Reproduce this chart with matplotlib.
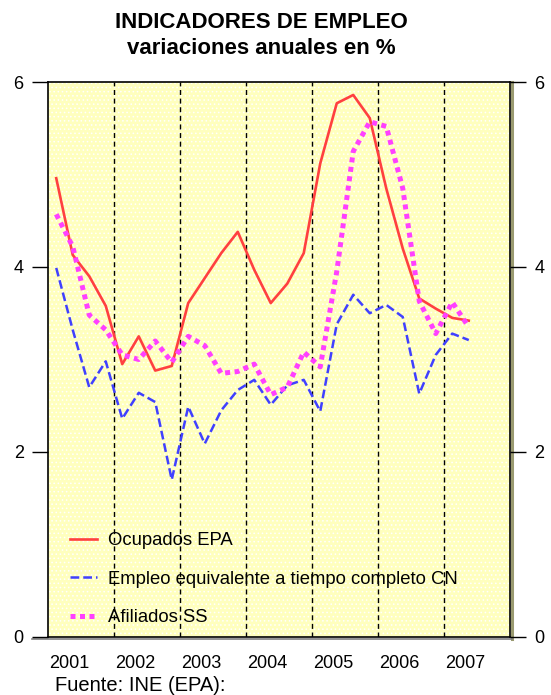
import matplotlib
matplotlib.use("Agg")
import matplotlib.pyplot as plt
from matplotlib.patches import Rectangle
import numpy as np

# quarterly data 2001 Q1 .. 2007 Q2
ocupados_epa = [4.96, 4.13, 3.90, 3.58, 2.95, 3.25, 2.88, 2.93, 3.61, 3.88, 4.15, 4.38, 3.97,
                3.61, 3.82, 4.15, 5.12, 5.77, 5.86, 5.61, 4.85, 4.20, 3.66, 3.55, 3.45, 3.42]
empleo_cn = [3.99, 3.32, 2.70, 2.98, 2.36, 2.64, 2.54, 1.70, 2.49, 2.09, 2.45, 2.67, 2.78,
             2.51, 2.72, 2.78, 2.44, 3.38, 3.70, 3.50, 3.59, 3.46, 2.63, 3.05, 3.28, 3.21]
afiliados_ss = [4.57, 4.22, 3.48, 3.32, 3.05, 3.00, 3.20, 2.97, 3.25, 3.15, 2.85, 2.87, 2.95,
                2.62, 2.70, 3.08, 2.92, 3.95, 5.25, 5.57, 5.52, 4.85, 3.63, 3.28, 3.62, 3.35]
years = ["2001", "2002", "2003", "2004", "2005", "2006", "2007"]
series_labels = ["Ocupados EPA", "Empleo equivalente a tiempo completo CN", "Afiliados SS"]

plt.rcParams['font.family'] = ['Liberation Sans', 'DejaVu Sans']
plt.rcParams['hatch.color'] = 'white'
plt.rcParams['hatch.linewidth'] = 0.6

fig = plt.figure(figsize=(5.51, 6.95), dpi=100)
ax = fig.add_axes([0.0871, 0.0835, 0.8385, 0.7985])

x = np.arange(len(ocupados_epa))
ax.set_facecolor('#FFFFBE')
# dotted texture of the plot area
ax.add_patch(Rectangle((0, 0), 1, 1, transform=ax.transAxes, facecolor='none',
                       hatch='....', lw=0, zorder=0.5))

# year separators
for b in range(1, len(years)):
    ax.axvline(4 * b - 0.5, color='black', lw=1.0, dashes=(3.6, 2.6), zorder=1)

ax.plot(x, ocupados_epa, color='#FF4040', lw=1.9, label=series_labels[0], zorder=3)
ax.plot(x, empleo_cn, color='#4040FF', lw=1.8, dashes=(3.5, 1.6), label=series_labels[1], zorder=3)
ax.plot(x, afiliados_ss, color='#FF40FF', lw=3.6, dashes=(1, 0.9), dash_capstyle='butt',
        label=series_labels[2], zorder=3)

ax.set_xlim(-0.5, 27.5)
ax.set_ylim(0, 6)

ax.set_xticks([4 * k + 0.8 for k in range(len(years))])
ax.set_xticklabels(years, fontsize=13)
ax.tick_params(axis='x', length=0, pad=13)

ax.set_yticks([0, 2, 4, 6])
ax.tick_params(axis='y', which='both', direction='out', length=11.5, width=1,
               labelsize=13, pad=6, left=True, right=True, labelleft=True, labelright=True)

for s in ax.spines.values():
    s.set_color('black')
    s.set_linewidth(1.2)

# shadow at the right and bottom of the plot area
ax.plot([1.004, 1.004], [-0.004, 1.0], transform=ax.transAxes, color='#9A9A70', lw=2.2,
        clip_on=False, zorder=0)
ax.plot([-0.035, 1.004], [-0.004, -0.004], transform=ax.transAxes, color='#808080', lw=1.2,
        clip_on=False, zorder=0)

leg = ax.legend(loc='lower left', bbox_to_anchor=(0.02, -0.004), frameon=False, fontsize=13.3,
                handlelength=1.45, handletextpad=0.6, labelspacing=1.16, borderaxespad=0.3)

fig.text(0.474, 0.967, "INDICADORES DE EMPLEO", ha='center', va='center', fontsize=16,
         fontweight='bold')
fig.text(0.474, 0.930, "variaciones anuales en %", ha='center', va='center', fontsize=16,
         fontweight='bold')
fig.text(0.1, 0.014, "Fuente: INE (EPA):", ha='left', va='center', fontsize=14.5)

fig.savefig("out.png", dpi=100)
